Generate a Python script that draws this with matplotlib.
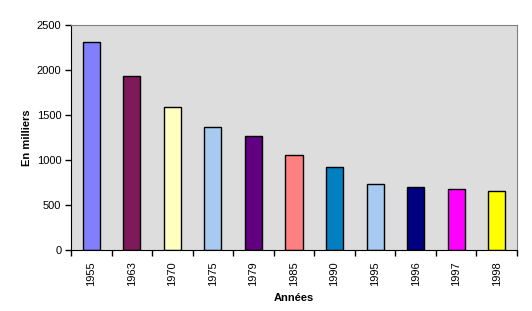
import matplotlib
matplotlib.use('Agg')
import matplotlib.pyplot as plt
import numpy as np

plt.rcParams['font.family'] = ['Liberation Sans', 'DejaVu Sans']

years = ['1955', '1963', '1970', '1975', '1979', '1985', '1990', '1995', '1996', '1997', '1998']
values = [2310, 1930, 1585, 1363, 1263, 1052, 918, 730, 696, 674, 652]
colors = ['#8080FF', '#7F1A5A', '#FFFFC0', '#A6CAF0', '#600080', '#FF8080',
          '#0080C0', '#A6CAF0', '#000080', '#FF00FF', '#FFFF00']

fig = plt.figure(figsize=(5.32, 3.11), dpi=100)
ax = fig.add_axes([71 / 532, 1 - 250 / 311, (517 - 71) / 532, (250 - 25) / 311])
ax.set_facecolor('#DDDDDD')

x = np.arange(len(years))
ax.bar(x, values, width=0.42, color=colors, edgecolor='black', linewidth=1, zorder=2)

ax.set_xlim(-0.5, len(years) - 0.5)
ax.set_ylim(0, 2500)
ax.set_yticks(np.arange(0, 2501, 500))
ax.tick_params(axis='y', direction='out', length=4, width=1, labelsize=8, pad=3)

# category labels centred, tick marks at category boundaries
ax.set_xticks(x)
ax.set_xticklabels(years, rotation=90, fontsize=8)
ax.tick_params(axis='x', which='major', length=0, pad=8)
ax.set_xticks(np.arange(-0.5, len(years)), minor=True)
ax.tick_params(axis='x', which='minor', direction='out', length=4, width=1)

for s in ['top', 'right']:
    ax.spines[s].set_color('#808080')
for s in ['left', 'bottom']:
    ax.spines[s].set_color('black')

ax.set_ylabel('En milliers', fontsize=8, fontweight='bold', labelpad=3)
ax.set_xlabel('Années', fontsize=8, fontweight='bold', labelpad=5)

fig.savefig('out.png', dpi=100)
